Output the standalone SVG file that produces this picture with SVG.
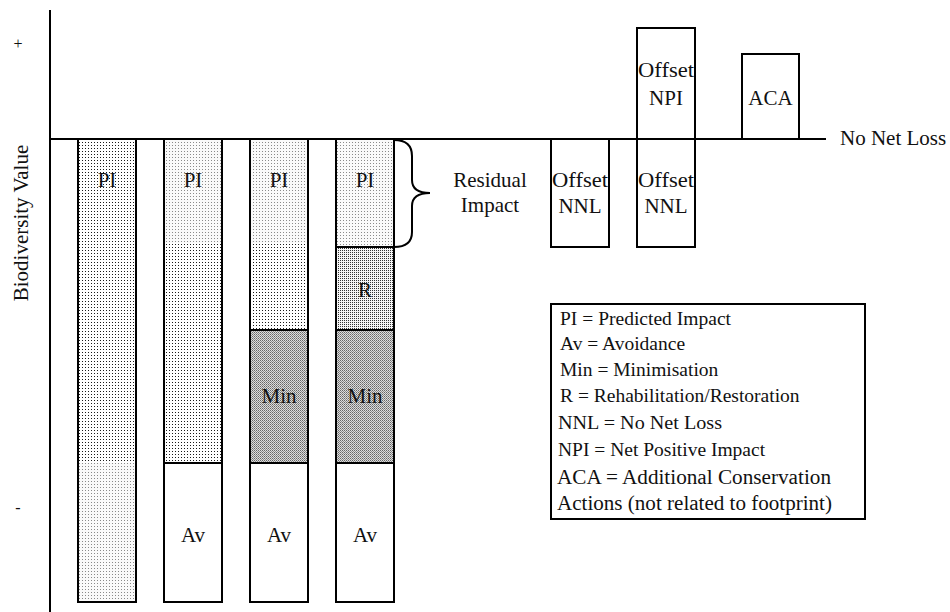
<svg xmlns="http://www.w3.org/2000/svg" width="950" height="612" viewBox="0 0 950 612" font-family="'Liberation Serif', 'DejaVu Serif', serif">
  <defs>
    <pattern id="pLight" width="3" height="3" patternUnits="userSpaceOnUse">
      <rect width="3" height="3" fill="#fafafa"/>
      <rect x="1" y="1" width="1" height="1" fill="#8a8a8a"/>
    </pattern>
    <pattern id="pDense" width="3" height="3" patternUnits="userSpaceOnUse">
      <rect width="3" height="3" fill="#ffffff"/>
      <rect x="1" y="1" width="1" height="1" fill="#1a1a1a"/>
    </pattern>
    <pattern id="pR" width="2" height="2" patternUnits="userSpaceOnUse">
      <rect width="2" height="2" fill="#f4f4f4"/>
      <rect x="0" y="0" width="1" height="1" fill="#333"/>
    </pattern>
    <pattern id="pMin" width="2" height="2" patternUnits="userSpaceOnUse">
      <rect width="2" height="2" fill="#dcdcdc"/>
      <rect x="0" y="0" width="1" height="1" fill="#666"/>
      <rect x="1" y="1" width="1" height="1" fill="#8c8c8c"/>
    </pattern>
  </defs>
  <style>
    text { font-family: "Liberation Serif", "DejaVu Serif", serif; fill: #111; }
    .lbl { font-size: 21px; text-anchor: middle; }
    .leg { font-size: 19.5px; }
    .leg2 { font-size: 20.5px; }
    .box { fill: #fff; stroke: #000; stroke-width: 2; }
    .edge { fill: none; stroke: #000; stroke-width: 2; }
    .seg { stroke: none; }
  </style>
  <rect width="950" height="612" fill="#fff"/>

  <g id="axis-labels">
    <text x="18" y="49" class="lbl" style="font-size:16px">+</text>
    <text x="18" y="513" class="lbl" style="font-size:16px">-</text>
    <text transform="translate(28,223) rotate(-90)" class="lbl">Biodiversity Value</text>
  </g>

  <g id="bar-1">
    <rect x="78" y="139" width="58" height="324" fill="url(#pDense)" class="seg"/>
    <rect x="78" y="463" width="58" height="139" fill="url(#pLight)" class="seg"/>
    <rect x="78" y="139" width="58" height="463" class="edge"/>
    <text x="107" y="187" class="lbl">PI</text>
  </g>

  <g id="bar-2">
    <rect x="164" y="139" width="58" height="104" fill="url(#pLight)" class="seg"/>
    <rect x="164" y="243" width="58" height="220" fill="url(#pDense)" class="seg"/>
    <rect x="164" y="463" width="58" height="139" fill="#fff" class="seg"/>
    <rect x="164" y="139" width="58" height="463" class="edge"/>
    <line x1="164" y1="463" x2="222" y2="463" class="edge"/>
    <text x="193" y="187" class="lbl">PI</text>
    <text x="193" y="542" class="lbl">Av</text>
  </g>

  <g id="bar-3">
    <rect x="250" y="139" width="58" height="104" fill="url(#pLight)" class="seg"/>
    <rect x="250" y="243" width="58" height="87" fill="url(#pDense)" class="seg"/>
    <rect x="250" y="330" width="58" height="133" fill="url(#pMin)" class="seg"/>
    <rect x="250" y="463" width="58" height="139" fill="#fff" class="seg"/>
    <rect x="250" y="139" width="58" height="463" class="edge"/>
    <line x1="250" y1="330" x2="308" y2="330" class="edge"/>
    <line x1="250" y1="463" x2="308" y2="463" class="edge"/>
    <text x="279" y="187" class="lbl">PI</text>
    <text x="279" y="403" class="lbl">Min</text>
    <text x="279" y="542" class="lbl">Av</text>
  </g>

  <g id="bar-4">
    <rect x="336" y="139" width="58" height="108" fill="url(#pLight)" class="seg"/>
    <rect x="336" y="247" width="58" height="83" fill="url(#pR)" class="seg"/>
    <rect x="336" y="330" width="58" height="133" fill="url(#pMin)" class="seg"/>
    <rect x="336" y="463" width="58" height="139" fill="#fff" class="seg"/>
    <rect x="336" y="139" width="58" height="463" class="edge"/>
    <line x1="336" y1="247" x2="394" y2="247" class="edge"/>
    <line x1="336" y1="330" x2="394" y2="330" class="edge"/>
    <line x1="336" y1="463" x2="394" y2="463" class="edge"/>
    <text x="365" y="187" class="lbl">PI</text>
    <text x="365" y="297" class="lbl">R</text>
    <text x="365" y="403" class="lbl">Min</text>
    <text x="365" y="542" class="lbl">Av</text>
  </g>

  <g id="residual-impact">
    <text x="490" y="187" class="lbl">Residual</text>
    <text x="490" y="212" class="lbl">Impact</text>
  </g>

  <g id="offset-nnl-1">
    <rect x="551" y="139" width="58" height="108" class="box"/>
    <text x="580" y="187" class="lbl" textLength="56" lengthAdjust="spacingAndGlyphs">Offset</text>
    <text x="580" y="213" class="lbl">NNL</text>
  </g>

  <g id="offset-2">
    <rect x="637" y="28" width="58" height="219" class="box"/>
    <text x="666" y="77" class="lbl" textLength="56" lengthAdjust="spacingAndGlyphs">Offset</text>
    <text x="666" y="105" class="lbl">NPI</text>
    <text x="666" y="187" class="lbl" textLength="56" lengthAdjust="spacingAndGlyphs">Offset</text>
    <text x="666" y="213" class="lbl">NNL</text>
  </g>

  <g id="aca">
    <rect x="742" y="54" width="57" height="85" class="box"/>
    <text x="770.5" y="105" class="lbl">ACA</text>
  </g>

  <g id="no-net-loss-label">
    <text x="840" y="145" style="font-size:21px">No Net Loss</text>
  </g>

  <g id="connectors">
    <line x1="50" y1="10" x2="50" y2="612" class="edge"/>
    <line x1="50" y1="139" x2="826" y2="139" class="edge"/>
    <path d="M394,140 C406,140 412,146 412,156 L412,180 C412,188 418,193 430,193 C418,193 412,198 412,206 L412,232 C412,242 406,247 394,247" class="edge"/>
  </g>

  <g id="legend">
    <rect x="551" y="304" width="314" height="215" class="box"/>
    <text x="560" y="325" class="leg" textLength="171" lengthAdjust="spacingAndGlyphs">PI = Predicted Impact</text>
    <text x="560" y="350" class="leg">Av = Avoidance</text>
    <text x="560" y="376" class="leg">Min = Minimisation</text>
    <text x="560" y="402" class="leg">R = Rehabilitation/Restoration</text>
    <text x="558" y="429" class="leg" textLength="164" lengthAdjust="spacingAndGlyphs">NNL = No Net Loss</text>
    <text x="558" y="456" class="leg">NPI = Net Positive Impact</text>
    <text x="557" y="484" class="leg2" textLength="274" lengthAdjust="spacingAndGlyphs">ACA = Additional Conservation</text>
    <text x="557" y="510" class="leg2" textLength="275" lengthAdjust="spacingAndGlyphs">Actions (not related to footprint)</text>
  </g>
</svg>
